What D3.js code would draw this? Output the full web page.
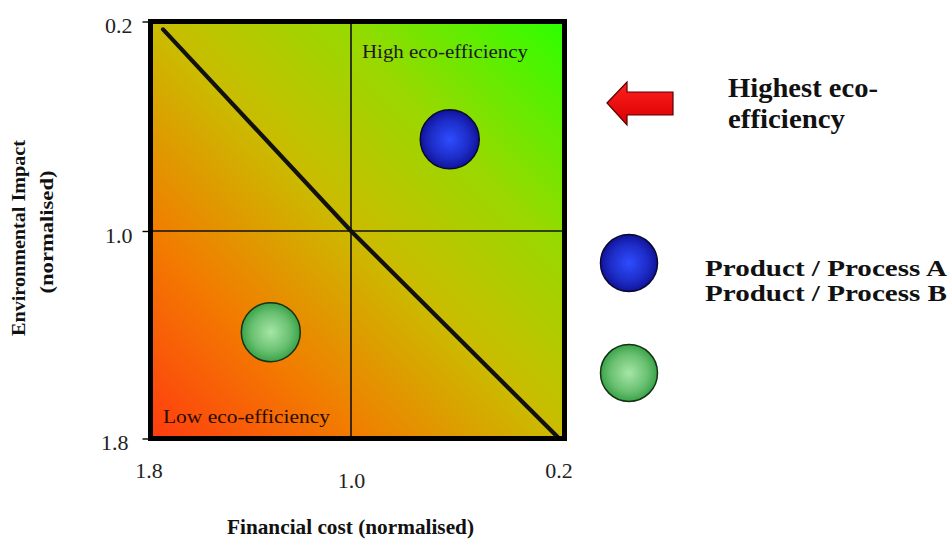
<!DOCTYPE html>
<html>
<head>
<meta charset="utf-8">
<script src="https://cdn.jsdelivr.net/npm/d3@7"></script>
<style>
  html, body { margin: 0; padding: 0; background: #fff; }
  svg { display: block; }
</style>
</head>
<body>
<svg id="chart" width="952" height="540"></svg>
<script>
// Normalised scores: lower cost / lower impact = better
const xTicks = [1.8, 1.0, 0.2];
const yTicks = [0.2, 1.0, 1.8];
const products = ["Product / Process A", "Product / Process B"];
const costValues = [0.63, 1.32];
const impactValues = [0.65, 1.39];
// Iso-efficiency line through the mid-point
const isoCost = [1.75, 1.0, 0.22];
const isoImpact = [0.23, 1.0, 1.8];

const svg = d3.select("#chart");
const serif = "'Liberation Serif', 'Times New Roman', serif";

const x = d3.scaleLinear().domain([1.8, 1.0, 0.2]).range([150.5, 351, 564.5]);
const y = d3.scaleLinear().domain([0.2, 1.0, 1.8]).range([21.5, 231, 438.5]);

const defs = svg.append("defs");
const bg = defs.append("linearGradient").attr("id", "bg")
  .attr("x1", 0).attr("y1", 1).attr("x2", 1).attr("y2", 0);
[[0, "#ff3c10"], [0.25, "#f27c00"], [0.5, "#cabc00"], [0.72, "#9ad800"], [1, "#2cff00"]]
  .forEach(([o, c]) => bg.append("stop").attr("offset", o).attr("stop-color", c));

const ballFills = [
  { id: "ballA", inner: "#2e4cff", outer: "#0c0c8c", stroke: "#0a0a30" },
  { id: "ballB", inner: "#a6e6a6", outer: "#2c9a3c", stroke: "#143214" }
];
ballFills.forEach(b => {
  const g = defs.append("radialGradient").attr("id", b.id)
    .attr("cx", 0.5).attr("cy", 0.5).attr("r", 0.55);
  g.append("stop").attr("offset", 0).attr("stop-color", b.inner);
  g.append("stop").attr("offset", 0.6).attr("stop-color", d3.interpolateRgb(b.inner, b.outer)(0.5));
  g.append("stop").attr("offset", 1).attr("stop-color", b.outer);
});
const arrowGrad = defs.append("linearGradient").attr("id", "arrowFill")
  .attr("x1", 0).attr("y1", 0).attr("x2", 0).attr("y2", 1);
arrowGrad.append("stop").attr("offset", 0).attr("stop-color", "#ff2020");
arrowGrad.append("stop").attr("offset", 1).attr("stop-color", "#d80000");

const [x0, x1] = [x(1.8), x(0.2)];
const [y0, y1] = [y(0.2), y(1.8)];

// Plot background
svg.append("rect")
  .attr("x", x0).attr("y", y0)
  .attr("width", x1 - x0).attr("height", y1 - y0)
  .attr("fill", "url(#bg)");

// Quadrant dividers
svg.append("line")
  .attr("x1", x(1.0)).attr("x2", x(1.0)).attr("y1", y0).attr("y2", y1)
  .attr("stroke", "#111").attr("stroke-width", 1.6);
svg.append("line")
  .attr("x1", x0).attr("x2", x1).attr("y1", y(1.0)).attr("y2", y(1.0))
  .attr("stroke", "#111").attr("stroke-width", 1.6);

// Iso-efficiency diagonal
svg.append("path")
  .datum(d3.zip(isoCost, isoImpact))
  .attr("d", d3.line().x(d => x(d[0])).y(d => y(d[1])))
  .attr("fill", "none").attr("stroke", "#111").attr("stroke-width", 4.2)
  .attr("stroke-linecap", "round");

// Quadrant labels
svg.append("text").attr("x", 362).attr("y", 58)
  .attr("font-family", serif).attr("font-size", 19).attr("fill", "#1a1a1a")
  .attr("textLength", 166).attr("lengthAdjust", "spacingAndGlyphs")
  .text("High eco-efficiency");
svg.append("text").attr("x", 163).attr("y", 423)
  .attr("font-family", serif).attr("font-size", 19).attr("fill", "#2a0c00")
  .attr("textLength", 167).attr("lengthAdjust", "spacingAndGlyphs")
  .text("Low eco-efficiency");

// Products
svg.append("g").selectAll("circle")
  .data(d3.range(products.length))
  .join("circle")
  .attr("cx", i => x(costValues[i]))
  .attr("cy", i => y(impactValues[i]))
  .attr("r", 29.5)
  .attr("fill", i => `url(#${ballFills[i].id})`)
  .attr("stroke", i => ballFills[i].stroke).attr("stroke-width", 1.5);

// Frame
svg.append("rect")
  .attr("x", x0).attr("y", y0)
  .attr("width", x1 - x0).attr("height", y1 - y0)
  .attr("fill", "none").attr("stroke", "#000").attr("stroke-width", 5);

// Axes
const fmt = d3.format(".1f");
const yAxis = svg.append("g")
  .attr("transform", `translate(${x0 - 2},0)`)
  .call(d3.axisLeft(y).tickValues(yTicks).tickFormat(fmt).tickSize(6).tickPadding(10));
yAxis.select(".domain").remove();
yAxis.selectAll(".tick line").attr("stroke", "#000").attr("stroke-width", 1.4);
yAxis.selectAll(".tick text")
  .attr("font-family", serif).attr("font-size", 22).attr("fill", "#222")
  .attr("dy", "0.5em")
  .attr("dx", (d, i) => i === 2 ? -4 : 0);

const xAxis = svg.append("g")
  .attr("transform", `translate(0,${y1})`)
  .call(d3.axisBottom(x).tickValues(xTicks).tickFormat(fmt).tickSize(0).tickPadding(0));
xAxis.select(".domain").remove();
xAxis.selectAll(".tick text")
  .attr("font-family", serif).attr("font-size", 22).attr("fill", "#222")
  .attr("dy", (d, i) => i === 1 ? 49 : 39)
  .attr("dx", (d, i) => i === 0 ? -2 : (i === 2 ? -6 : 0));

// Axis titles
svg.append("text")
  .attr("x", 227).attr("y", 534)
  .attr("font-family", serif).attr("font-weight", "bold").attr("font-size", 21)
  .attr("fill", "#111")
  .attr("textLength", 247).attr("lengthAdjust", "spacingAndGlyphs")
  .text("Financial cost (normalised)");

const yTitle = svg.append("g").attr("transform", "translate(0,238) rotate(-90)");
yTitle.append("text")
  .attr("x", 0).attr("y", 25).attr("text-anchor", "middle")
  .attr("font-family", serif).attr("font-weight", "bold").attr("font-size", 18)
  .attr("fill", "#111")
  .attr("textLength", 196).attr("lengthAdjust", "spacingAndGlyphs")
  .text("Environmental Impact");
yTitle.append("text")
  .attr("x", 6).attr("y", 53).attr("text-anchor", "middle")
  .attr("font-family", serif).attr("font-weight", "bold").attr("font-size", 18)
  .attr("fill", "#111")
  .attr("textLength", 123).attr("lengthAdjust", "spacingAndGlyphs")
  .text("(normalised)");

// Direction of best performance
const ax = 607, ay = 103;
svg.append("path")
  .attr("d", `M${ax},${ay} L${ax + 20},${ay - 21} L${ax + 20},${ay - 11} L${ax + 66},${ay - 11}
              L${ax + 66},${ay + 12} L${ax + 20},${ay + 12} L${ax + 20},${ay + 22} Z`)
  .attr("fill", "url(#arrowFill)").attr("stroke", "#5a0000").attr("stroke-width", 1.2)
  .attr("stroke-linejoin", "miter");

const note = svg.append("text")
  .attr("font-family", serif).attr("font-weight", "bold").attr("font-size", 27)
  .attr("fill", "#111");
note.append("tspan").attr("x", 728).attr("y", 97)
  .attr("textLength", 150).attr("lengthAdjust", "spacingAndGlyphs").text("Highest eco-");
note.append("tspan").attr("x", 728).attr("y", 128)
  .attr("textLength", 117).attr("lengthAdjust", "spacingAndGlyphs").text("efficiency");

// Legend
const legend = svg.append("g");
legend.selectAll("circle")
  .data(d3.range(products.length))
  .join("circle")
  .attr("cx", 629)
  .attr("cy", i => 263 + i * 110)
  .attr("r", 28.5)
  .attr("fill", i => `url(#${ballFills[i].id})`)
  .attr("stroke", i => ballFills[i].stroke).attr("stroke-width", 1.5);
legend.selectAll("text")
  .data(products)
  .join("text")
  .attr("x", 705)
  .attr("y", (d, i) => 276 + i * 25)
  .attr("font-family", serif).attr("font-weight", "bold").attr("font-size", 24)
  .attr("fill", "#111")
  .attr("textLength", 242).attr("lengthAdjust", "spacingAndGlyphs")
  .text(d => d);
</script>
</body>
</html>
